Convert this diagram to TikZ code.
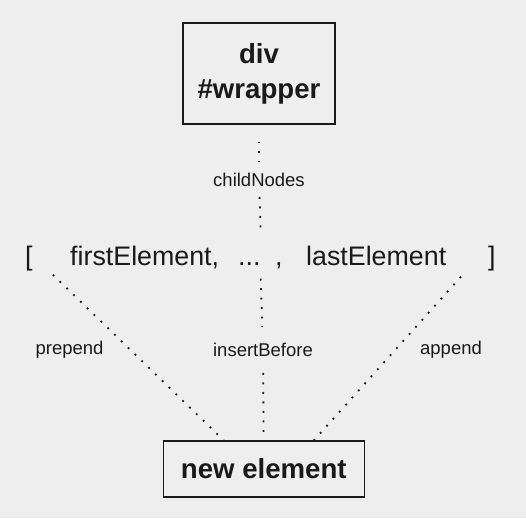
\documentclass[tikz,border=0pt]{standalone}
\usepackage{fontspec}
\setmainfont{Liberation Sans}
\definecolor{bgcol}{HTML}{EEEEEE}
\definecolor{inkcol}{HTML}{1A1A1A}
\begin{document}
\begin{tikzpicture}
  [x=1pt,y=-1pt,every node/.style={text=inkcol,inner sep=0pt}]
  \tikzstyle{box} = [draw=inkcol,line width=1.2pt,font=\fontsize{27.6}{35}\selectfont\bfseries,align=center]
  \tikzstyle{item} = [font=\fontsize{26.8}{30}\selectfont,anchor=base west,text height=19pt,text depth=0pt,inner ysep=13.5pt]
  \tikzstyle{method} = [font=\fontsize{18.5}{22}\selectfont,fill=bgcol,inner xsep=4pt]
  \tikzstyle{link} = [draw=inkcol,line width=1.8pt,dash pattern=on 1.8pt off 7.7pt]
  \useasboundingbox[fill=bgcol] (0,0) rectangle (526,518);

  \node[box,minimum width=152pt,minimum height=101pt] (wrapper) at (259,73.5) {div\\\#wrapper};
  \node[method,inner ysep=10pt] (child) at (259,180) {childNodes};

  \node[item] (lb) at (25,265) {[};
  \node[item] (first) at (70,265) {firstElement,};
  \node[item] (dots) at (238,265) {...};
  \node[item] (comma) at (275,265) {,};
  \node[item] (last) at (306,265) {lastElement};
  \node[item] (rb) at (488,265) {]};

  \node[method] (prep) at (69.5,350) {prepend};
  \node[method,inner ysep=16pt] (ins) at (263,350) {insertBefore};
  \node[method] (app) at (451,350) {append};

  \node[box,minimum width=201pt,minimum height=56pt] (newel) at (263.8,469) {new element};

  \draw[link,shorten <=17pt] (wrapper) -- (child);
  \draw[link] (child) -- (dots.north east);
  \draw[link] (dots.south east) -- (ins);
  \draw[link,shorten >=6pt] (ins) -- (newel);
  \draw[link] ([xshift=20pt,yshift=4pt]lb.south east) -- ([xshift=-40pt]newel.north);
  \draw[link] ([xshift=-27pt,yshift=2pt]rb.south west) -- ([xshift=50pt]newel.north);
\end{tikzpicture}
\end{document}
